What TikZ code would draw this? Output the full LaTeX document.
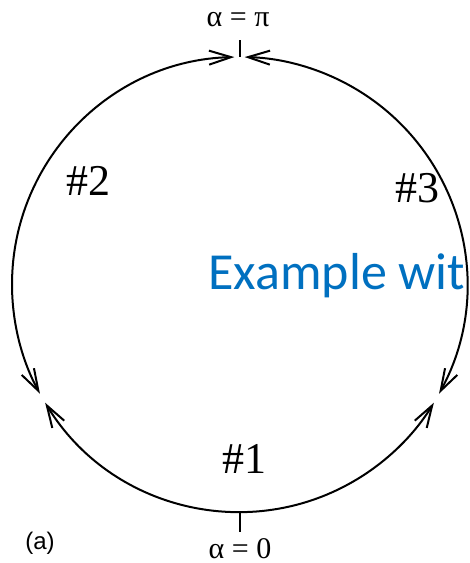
\documentclass[tikz,border=0pt]{standalone}
\usepackage{amsmath,amssymb}
\usepackage{fontspec}
\setmainfont{Liberation Serif}
\newfontfamily\capsans{Liberation Sans}
\newfontfamily\markfont{Carlito}
\usepackage{xcolor}
\usepackage{tikz}
\usetikzlibrary{calc,arrows.meta}
\definecolor{markblue}{RGB}{0,112,192}

\begin{document}
\begin{tikzpicture}[x=0.5pt,y=0.5pt,
    >={Straight Barb[length=11pt,width=7pt]},
    branch/.style={line width=1pt,<->},
    tick/.style={line width=1pt},
    regionlabel/.style={font=\fontsize{22}{24}\selectfont},
    anglelabel/.style={font=\fontsize{15}{17}\selectfont}]
    \useasboundingbox (0,0) rectangle (470,563);
    \def\R{113.75pt}

    % Centre and junctions
    \coordinate (o) at (239.5,278.5);
    \coordinate (top) at ($(o)+(90:\R)$);
    \coordinate (bot) at ($(o)+(270:\R)$);
    \coordinate (toptick) at ($(top)+(0,17)$);
    \coordinate (bottick) at ($(bot)+(0,-20)$);

    % Branch ends
    \coordinate (b2s) at ($(o)+(91.3:\R)$);
    \coordinate (b1s) at ($(o)+(211.3:\R)$);
    \coordinate (b3s) at ($(o)+(331.3:\R)$);

    % Branches
    \draw[branch] (b2s) arc[start angle=91.3, end angle=208.7, radius=\R];
    \draw[branch] (b1s) arc[start angle=211.3, end angle=328.7, radius=\R];
    \draw[branch] (b3s) arc[start angle=331.3, end angle=448.7, radius=\R];

    % Ticks
    \draw[tick] (top) -- (toptick);
    \draw[tick] (bot) -- (bottick);

    % Labels
    \node[anglelabel] (pi) at (238,543) {α = π};
    \node[anglelabel] (zero) at (240,14) {α = 0};
    \node[regionlabel] (n2) at (89,382) {\#2};
    \node[regionlabel] (n3) at (417,375) {\#3};
    \node[regionlabel] (n1) at (244,104) {\#1};
    \node[font=\capsans\fontsize{12}{14}\selectfont] (cap) at (40,20) {(a)};

    % Watermark
    \node[font=\markfont\fontsize{26}{30}\selectfont, text=markblue,
          anchor=base west, inner sep=0pt] (wm) at (208,273) {Example wit};
\end{tikzpicture}
\end{document}
